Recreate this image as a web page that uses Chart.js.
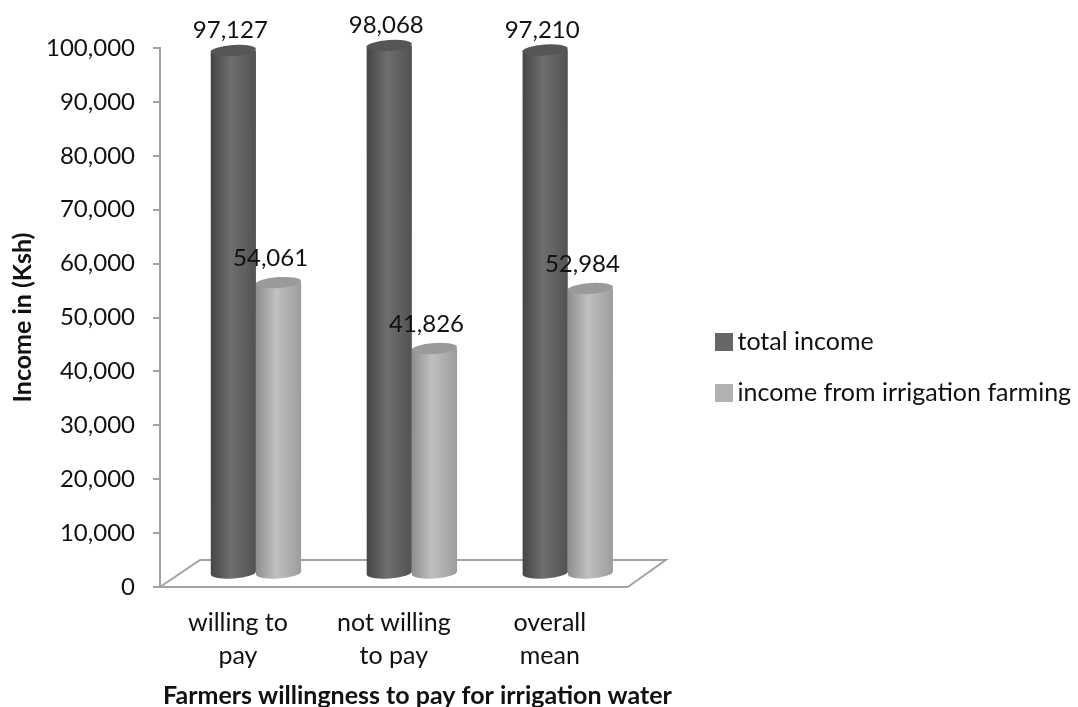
<!DOCTYPE html>
<html>
<head>
    <script src="https://cdn.jsdelivr.net/npm/chart.js"></script>
    <style>
        html, body { margin: 0; padding: 0; background: #fff; overflow: hidden; }
        .chart-container { width: 1078px; height: 707px; }
        canvas { display: block; }
    </style>
</head>
<body>
    <div class="chart-container">
        <canvas id="incomeChart"></canvas>
    </div>
    <script>
        const categories = [['willing to', 'pay'], ['not willing', 'to pay'], ['overall', 'mean']];
        const totalIncome = [97127, 98068, 97210];
        const irrigationIncome = [54061, 41826, 52984];
        const xAxisTitle = 'Farmers willingness to pay for irrigation water';

        const textColor = '#111111';
        const axisColor = '#a3a3a3';
        const swatchColors = ['#666666', '#b2b2b2'];
        // cylinder edge / middle / edge shades and lid colour for each series
        const shades = [
            ['#454545', '#6e6e6e', '#525252', '#565656'],
            ['#8e8e8e', '#c0c0c0', '#9c9c9c', '#9a9a9a']
        ];
        // pseudo 3d: bars stand in the middle of the floor, labels were moved by hand in the original
        const depthX = 18, depthY = -13;
        const labelOffset = [[-3, -20], [-8, -24]];

        function makeSwatch(color) {
            const c = document.createElement('canvas');
            c.width = 18; c.height = 18;
            const g = c.getContext('2d');
            g.fillStyle = color;
            g.fillRect(0, 0, 18, 18);
            return c;
        }
        const swatches = swatchColors.map(makeSwatch);

        function drawCylinder(ctx, bar, shade) {
            const half = bar.width / 2;
            const cx = bar.x + depthX;
            const top = bar.y + depthY;
            const bottom = bar.base + depthY;
            const tilt = -0.07;
            const ry = 5.5;
            const grad = ctx.createLinearGradient(cx - half, 0, cx + half, 0);
            grad.addColorStop(0, shade[0]);
            grad.addColorStop(0.45, shade[1]);
            grad.addColorStop(1, shade[2]);
            ctx.beginPath();
            ctx.ellipse(cx, bottom, half, ry, tilt, 0, Math.PI);
            ctx.lineTo(cx - half, top);
            ctx.lineTo(cx + half, top);
            ctx.closePath();
            ctx.fillStyle = grad;
            ctx.fill();
            ctx.beginPath();
            ctx.ellipse(cx, top, half, ry, tilt, 0, Math.PI * 2);
            ctx.fillStyle = shade[3];
            ctx.fill();
        }

        const cylinders = {
            id: 'cylinders',
            afterLayout(chart) {
                chart.legend.left = 697;
                chart.legend.right = 1078;
                chart.legend.top = 303;
            },
            beforeDatasetsDraw(chart) {
                const { ctx, chartArea: a } = chart;
                ctx.save();
                ctx.strokeStyle = axisColor;
                ctx.lineWidth = 2;
                ctx.beginPath();
                ctx.moveTo(a.left, a.bottom);
                ctx.lineTo(a.left + 40, a.bottom + 2 * depthY - 1);
                ctx.lineTo(a.right + 38, a.bottom + 2 * depthY - 1);
                ctx.lineTo(a.right, a.bottom);
                ctx.stroke();
                ctx.restore();
            },
            beforeDatasetDraw(chart, args) {
                const ctx = chart.ctx;
                ctx.save();
                args.meta.data.forEach(bar => drawCylinder(ctx, bar, shades[args.index]));
                ctx.restore();
                return false;
            },
            afterDraw(chart) {
                const ctx = chart.ctx;
                ctx.save();
                ctx.fillStyle = textColor;
                ctx.font = '24px Lato';
                ctx.textAlign = 'center';
                ctx.textBaseline = 'middle';
                chart.data.datasets.forEach((ds, i) => {
                    chart.getDatasetMeta(i).data.forEach((bar, j) => {
                        ctx.fillText(ds.data[j].toLocaleString('en-US'),
                            bar.x + depthX + labelOffset[i][0],
                            bar.y + depthY + labelOffset[i][1]);
                    });
                });
                // the scale title gets squeezed to the axis width, this one is wider than the axis
                ctx.font = 'bold 25px Lato';
                ctx.textAlign = 'left';
                ctx.fillText(xAxisTitle, chart.chartArea.left + 3, 696);
                ctx.restore();
            }
        };

        new Chart(document.getElementById('incomeChart'), {
            type: 'bar',
            data: {
                labels: categories,
                datasets: [
                    { label: 'total income', data: totalIncome, backgroundColor: swatchColors[0] },
                    { label: 'income from irrigation farming', data: irrigationIncome, backgroundColor: swatchColors[1] }
                ]
            },
            plugins: [cylinders],
            options: {
                responsive: true,
                maintainAspectRatio: false,
                animation: false,
                events: [],
                layout: { padding: { top: 48, bottom: 0, left: 0, right: 241 } },
                datasets: { bar: { categoryPercentage: 0.58, barPercentage: 1 } },
                plugins: {
                    tooltip: { enabled: false },
                    legend: {
                        position: 'right',
                        align: 'start',
                        labels: {
                            color: textColor,
                            font: { family: 'Lato', size: 25, lineHeight: 1.2 },
                            padding: 26,
                            usePointStyle: true,
                            pointStyleWidth: 2,
                            boxHeight: 18,
                            generateLabels(chart) {
                                return Chart.defaults.plugins.legend.labels.generateLabels(chart)
                                    .map((item, i) => ({ ...item, pointStyle: swatches[i] }));
                            }
                        }
                    }
                },
                scales: {
                    x: {
                        afterFit(scale) { scale.height = 120; },
                        grid: { display: false },
                        border: { color: axisColor, width: 2 },
                        ticks: {
                            color: textColor,
                            font: { family: 'Lato', size: 25, lineHeight: 1.32 },
                            padding: 11,
                            maxRotation: 0,
                            autoSkip: false
                        }
                    },
                    y: {
                        min: 0,
                        max: 100000,
                        afterFit(scale) { scale.width = 160; },
                        grid: { drawOnChartArea: false, color: axisColor, lineWidth: 2, tickLength: 7 },
                        border: { color: axisColor, width: 2 },
                        ticks: {
                            stepSize: 10000,
                            color: textColor,
                            font: { family: 'Lato', size: 24 },
                            padding: 18,
                            callback: v => v.toLocaleString('en-US')
                        },
                        title: {
                            display: true,
                            text: 'Income in (Ksh)',
                            color: textColor,
                            font: { family: 'Lato', size: 25, weight: 'bold' },
                            padding: { top: 8, bottom: 0 }
                        }
                    }
                }
            }
        });
    </script>
</body>
</html>
